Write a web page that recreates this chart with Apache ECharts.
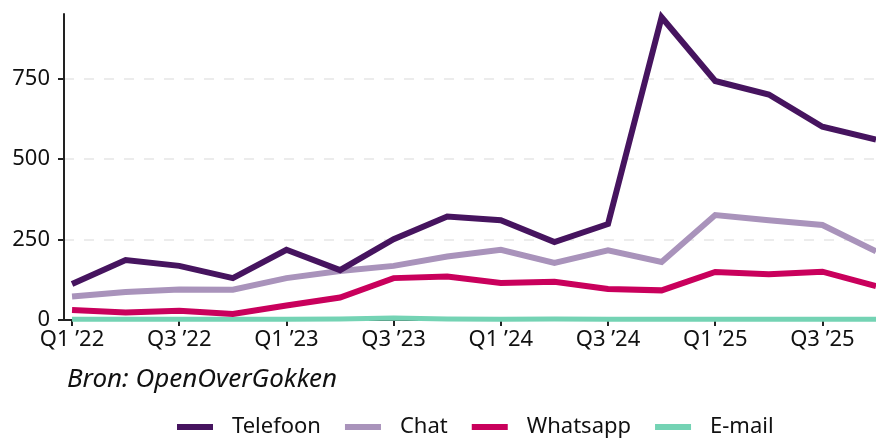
<!DOCTYPE html>
<html>
<head>
<meta charset="utf-8">
<script src="https://cdn.jsdelivr.net/npm/echarts@6/dist/echarts.min.js"></script>
<style>
  html, body { margin: 0; padding: 0; background: #fff; }
  #chart { width: 876px; height: 441px; }
</style>
</head>
<body>
<div id="chart"></div>
<script>
  // kwartalen Q1 '22 t/m Q4 '25
  const quarters = ['Q1 ’22', 'Q2 ’22', 'Q3 ’22', 'Q4 ’22',
                    'Q1 ’23', 'Q2 ’23', 'Q3 ’23', 'Q4 ’23',
                    'Q1 ’24', 'Q2 ’24', 'Q3 ’24', 'Q4 ’24',
                    'Q1 ’25', 'Q2 ’25', 'Q3 ’25', 'Q4 ’25'];
  const telefoon = [112, 186, 168, 130, 218, 155, 251, 321, 310, 242, 298, 940, 742, 700, 600, 560];
  const chat     = [73, 87, 95, 94, 130, 152, 168, 197, 218, 177, 216, 180, 326, 310, 295, 213];
  const whatsapp = [31, 23, 29, 19, 45, 70, 130, 135, 115, 119, 96, 92, 149, 142, 150, 105];
  const email    = [2, 2, 2, 2, 2, 3, 6, 3, 2, 3, 2, 2, 2, 2, 2, 2];
  const yTicks = [0, 250, 500, 750];
  const xTicks = [0, 2, 4, 6, 8, 10, 12, 14];

  const font = 'Noto Sans';
  const toPairs = arr => arr.map((v, i) => [i, v]);

  function lineSeries(name, data, color, width, z) {
    return {
      name: name,
      type: 'line',
      data: toPairs(data),
      showSymbol: false,
      z: z,
      lineStyle: { color: color, width: width, join: 'miter' },
      itemStyle: { color: color }
    };
  }

  const chart = echarts.init(document.getElementById('chart'));
  chart.setOption({
    animation: false,
    backgroundColor: '#fff',
    title: {
      text: 'Bron: OpenOverGokken',
      left: 62,
      top: 362,
      textStyle: { fontFamily: font, fontStyle: 'italic', fontWeight: 'normal', fontSize: 26, color: '#111' }
    },
    grid: { left: 64, right: 0, top: 14, bottom: 121 },
    legend: {
      bottom: -2,
      left: 172,
      itemWidth: 36,
      itemHeight: 6,
      itemGap: 24,
      icon: 'rect',
      textStyle: { fontFamily: font, fontSize: 22, color: '#111', padding: [0, 0, 0, 14] },
      data: ['Telefoon', 'Chat', 'Whatsapp', 'E-mail']
    },
    xAxis: {
      type: 'value',
      min: -0.15,
      max: 15,
      axisLine: { show: true, onZero: false, lineStyle: { color: '#222', width: 2 } },
      axisTick: { show: true, length: 6, customValues: xTicks, lineStyle: { color: '#222', width: 2 } },
      axisLabel: {
        customValues: xTicks,
        fontFamily: font, fontSize: 22, color: '#111', margin: 9,
        formatter: v => quarters[Math.round(v)]
      },
      splitLine: { show: false }
    },
    yAxis: {
      type: 'value',
      min: 0,
      max: 950,
      axisLine: { show: true, onZero: false, lineStyle: { color: '#222', width: 2 } },
      axisTick: { show: true, length: 6, customValues: yTicks, lineStyle: { color: '#222', width: 2 } },
      axisLabel: { customValues: yTicks, fontFamily: font, fontSize: 22, color: '#111', margin: 14 },
      splitLine: { show: true, lineStyle: { color: '#ececec', width: 2, type: [10, 10] } }
    },
    series: [
      lineSeries('Telefoon', telefoon, '#46145f', 6, 5),
      lineSeries('Chat', chat, '#a993bb', 6, 4),
      lineSeries('Whatsapp', whatsapp, '#c9005c', 6, 3),
      lineSeries('E-mail', email, '#74d3b4', 5, 2)
    ]
  });
</script>
</body>
</html>
